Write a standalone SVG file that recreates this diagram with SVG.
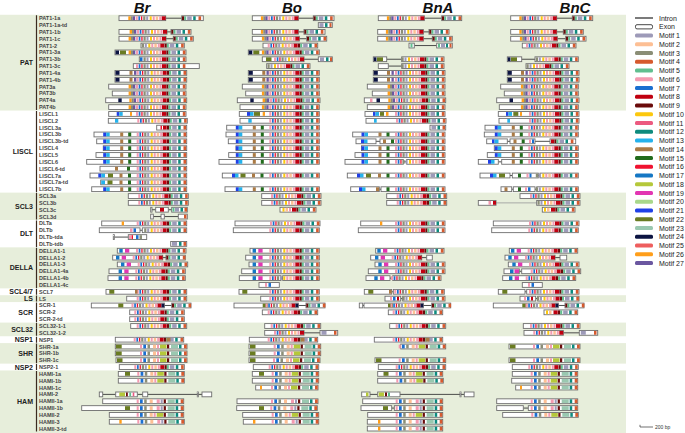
<svg xmlns="http://www.w3.org/2000/svg" width="685" height="433" viewBox="0 0 685 433">
<style>
.x{fill:#fff;stroke:#6e6e6e;stroke-width:.9;y:-2.4px;height:4.8px}
[class^=m]{y:-1.9px;height:3.8px}
.i{fill:none;stroke:#3a3a3a;stroke-width:.9}
.ig{fill:none;stroke:#a0a0a0;stroke-width:.9}
.t{font-family:"Liberation Sans",Arial,sans-serif;font-size:5.5px;font-weight:bold;fill:#454545}
.gl{font-family:"Liberation Sans",Arial,sans-serif;font-size:7px;font-weight:bold;fill:#222;text-anchor:end}
.h{font-family:"Liberation Sans",Arial,sans-serif;font-size:15px;font-weight:bold;font-style:italic;fill:#111;text-anchor:middle}
.lg{font-family:"Liberation Sans",Arial,sans-serif;font-size:7px;fill:#222}
.br{stroke:#3b2b20;stroke-width:1.2}
.m1{fill:#9d9ab8}.m2{fill:#fdbf94}.m3{fill:#8b8e76}.m4{fill:#d65a2e}.m5{fill:#60bf8f}.m6{fill:#f49ab0}.m7{fill:#1a6fd0}.m8{fill:#c00010}.m9{fill:#6a0b0b}.m10{fill:#fcc80e}.m11{fill:#ec5a80}.m12{fill:#0d8b7e}.m13{fill:#25b2ec}.m14{fill:#aa7a45}.m15{fill:#226b1c}.m16{fill:#f01230}.m17{fill:#1577c4}.m18{fill:#b5c83a}.m19{fill:#e236b2}.m20{fill:#a9d88b}.m21{fill:#2040e6}.m22{fill:#6a7c22}.m23{fill:#9ac8b0}.m24{fill:#0c1442}.m25{fill:#ee5e5e}.m26{fill:#ff9e1a}.m27{fill:#6b57a0}
</style>
<defs>
<g id="A2"><rect class="m3" x="-22.5" width="2.2"/><rect class="m1" x="-19.5" width="2"/><rect class="m10" x="-16" width="2"/><rect class="m6" x="-13" width="2"/><rect class="m2" x="-10" width="2.5"/><rect class="m6" x="-6.5" width="2"/><rect class="m8" x="-4" width="4"/></g>
<g id="A"><rect class="m6" x="-30" width="2"/><rect class="m7" x="-27.3" width="1.7"/><rect class="m16" x="-24.7" width="1.3"/><use href="#A2"/></g>
<g id="B"><rect class="m9" x="0.3" width="2.2"/><rect class="m5" x="2.5" width="2"/><rect class="m1" x="5.5" width="4.5"/><rect class="m12" x="11.5" width="2.5"/><rect class="m4" x="16.8" width="2.6"/></g>
<g id="C"><use href="#A"/><use href="#B"/></g>
<g id="C2"><use href="#A2"/><use href="#B"/></g>
<g id="P"><rect class="m26" x="-37.4" width="2.4"/><rect class="m3" x="-35" width="2"/><rect class="m27" x="-33" width="2.3"/></g>
<g id="L"><rect class="m21" x="-63.5" width="3"/><rect class="m13" x="-60.5" width="3.5"/><rect class="m14" x="-46.5" width="3"/><rect class="m15" x="-38.5" width="3"/></g>
<g id="D"><rect class="m17" x="-46.7" width="3.4"/><rect class="m19" x="-41" width="4.3"/></g>
<g id="H"><rect class="m6" x="-47" width="2"/><rect class="m7" x="-43.7" width="2.7"/><rect class="m3" x="-39.5" width="2.5"/><rect class="m2" x="-34" width="3"/><rect class="m6" x="-30" width="2"/><rect class="m18" x="-27" width="6.5"/><rect class="m9" x="-20" width="2.2"/><rect class="m23" x="-16" width="7"/><rect class="m12" x="-8" width="2.5"/><rect class="m4" x="-3" width="2.7"/></g>
<g id="H2"><rect class="m6" x="-47" width="2"/><rect class="m7" x="-43.7" width="2.7"/><rect class="m3" x="-39.5" width="2.5"/><rect class="m2" x="-34" width="3"/><rect class="m6" x="-27" width="3"/><rect class="m1" x="-23" width="2"/><rect class="m9" x="-20" width="2.2"/><rect class="m23" x="-16" width="7"/><rect class="m12" x="-8" width="2.5"/><rect class="m4" x="-3" width="2.7"/></g>
</defs>
<rect width="685" height="433" fill="#fff"/>
<g id="bands" fill="#e7eedb">
<rect x="0" y="14.78" width="626" height="95.76"/>
<rect x="0" y="192.62" width="626" height="27.36"/>
<rect x="0" y="247.34" width="626" height="41.04"/>
<rect x="0" y="295.22" width="626" height="6.84"/>
<rect x="0" y="322.58" width="626" height="13.68"/>
<rect x="0" y="343.1" width="626" height="20.52"/>
<rect x="0" y="370.46" width="626" height="62.54"/>
</g>
<g id="headers">
<text class="h" x="142" y="12.5">Br</text>
<text class="h" x="292" y="12.5">Bo</text>
<text class="h" x="438" y="12.5">BnA</text>
<text class="h" x="575" y="12.5">BnC</text>
</g>
<g id="groups">
<text class="gl" x="33" y="65.2">PAT</text>
<text class="gl" x="33" y="154.1">LISCL</text>
<text class="gl" x="33" y="208.8">SCL3</text>
<text class="gl" x="33" y="236.2">DLT</text>
<text class="gl" x="33" y="270.4">DELLA</text>
<text class="gl" x="33" y="294.3">SCL4/7</text>
<text class="gl" x="33" y="301.1">LS</text>
<text class="gl" x="33" y="314.8">SCR</text>
<text class="gl" x="33" y="331.9">SCL32</text>
<text class="gl" x="33" y="342.2">NSP1</text>
<text class="gl" x="33" y="355.9">SHR</text>
<text class="gl" x="33" y="369.5">NSP2</text>
<text class="gl" x="33" y="403.7">HAM</text>
</g>
<g id="connectors" class="br">
<path d="M36.5 15.2V110.1M36.5 111V192.2M36.5 193V219.6M36.5 220.4V246.9M36.5 247.8V288M36.5 288.8V294.8M36.5 295.6V301.6M36.5 302.5V322.2M36.5 323V335.8M36.5 336.7V342.7M36.5 343.5V363.2M36.5 364V370M36.5 370.9V431.6"/>
</g>
<g id="genes">
<g id="n-PAT1-1a" transform="translate(0,18.2)"><text class="t" x="39" y="2">PAT1-1a</text>
<path class="i" d="M165.7 0H181.7M298.3 0H313.3M424.3 0H441.7M556.7 0H572.3"/>
<rect class="x" x="119" width="46.7"/><rect class="x" x="181.7" width="21.6"/><use href="#A" x="165.7"/><use href="#P" x="165.7"/><use href="#B" x="181.7"/>
<rect class="x" x="252.3" width="46"/><rect class="x" x="313.3" width="20.7"/><use href="#A" x="298.3"/><use href="#P" x="298.3"/><use href="#B" x="313.3"/>
<rect class="x" x="378.3" width="46"/><rect class="x" x="441.7" width="20"/><use href="#A" x="424.3"/><use href="#P" x="424.3"/><use href="#B" x="441.7"/>
<rect class="x" x="510.7" width="46"/><rect class="x" x="572.3" width="20.4"/><use href="#A" x="556.7"/><use href="#P" x="556.7"/><use href="#B" x="572.3"/>
</g>
<g id="n-PAT1-1a-td" transform="translate(0,25.04)"><text class="t" x="39" y="2">PAT1-1a-td</text>
<rect class="x" x="318.3" width="14"/><rect class="m1" x="319.5" width="4"/><rect class="m12" x="325" width="2.5"/><rect class="m4" x="329.5" width="2"/>
</g>
<g id="n-PAT1-1b" transform="translate(0,31.88)"><text class="t" x="39" y="2">PAT1-1b</text>
<path class="i" d="M167 0H171M298.3 0H304M423.3 0H429M556.7 0H563.3"/>
<rect class="x" x="119" width="48"/><rect class="x" x="171" width="20"/><use href="#A" x="167"/><use href="#P" x="167"/><use href="#B" x="171"/>
<rect class="x" x="252.3" width="46"/><rect class="x" x="304" width="21"/><use href="#A" x="298.3"/><use href="#P" x="298.3"/><use href="#B" x="304"/>
<rect class="x" x="377.7" width="45.6"/><rect class="x" x="429" width="20"/><use href="#A" x="423.3"/><use href="#P" x="423.3"/><use href="#B" x="429"/>
<rect class="x" x="510.7" width="46"/><rect class="x" x="563.3" width="20"/><use href="#A" x="556.7"/><use href="#P" x="556.7"/><use href="#B" x="563.3"/>
</g>
<g id="n-PAT1-1c" transform="translate(0,38.72)"><text class="t" x="39" y="2">PAT1-1c</text>
<path class="i" d="M166 0H173.3M299.3 0H306.7M423.3 0H432.3M557.3 0H565.7"/>
<rect class="x" x="119" width="47"/><rect class="x" x="173.3" width="20"/><use href="#A" x="166"/><use href="#P" x="166"/><use href="#B" x="173.3"/>
<rect class="x" x="252.3" width="47"/><rect class="x" x="306.7" width="20"/><use href="#A" x="299.3"/><use href="#P" x="299.3"/><use href="#B" x="306.7"/>
<rect class="x" x="377.7" width="45.6"/><rect class="x" x="432.3" width="20"/><use href="#A" x="423.3"/><use href="#P" x="423.3"/><use href="#B" x="432.3"/>
<rect class="x" x="510.7" width="46.6"/><rect class="x" x="565.7" width="20.3"/><use href="#A" x="557.3"/><use href="#P" x="557.3"/><use href="#B" x="565.7"/>
</g>
<g id="n-PAT1-2" transform="translate(0,45.56)"><text class="t" x="39" y="2">PAT1-2</text>
<path class="i" d="M414.3 0H436.7"/>
<rect class="x" x="141" width="43.3"/><use href="#C2" x="164.3"/>
<rect class="x" x="263" width="54.7"/><use href="#C" x="297.7"/>
<rect class="x" x="409" width="5.3"/><rect class="x" x="436.7" width="15.6"/><rect class="m5" x="410.5" width="2"/><rect class="m5" x="438" width="2"/><rect class="m1" x="441" width="4"/><rect class="m12" x="446" width="2"/><rect class="m4" x="449.5" width="2"/>
<rect class="x" x="522.3" width="53.7"/><use href="#C" x="556"/>
</g>
<g id="n-PAT1-3a" transform="translate(0,52.4)"><text class="t" x="39" y="2">PAT1-3a</text>
<rect class="x" x="115" width="71"/><use href="#C" x="166"/><use href="#P" x="166"/><rect class="m24" x="115.5" width="3.5"/><rect class="m22" x="120" width="6"/>
<rect class="x" x="248.3" width="71"/><use href="#C" x="299.3"/><use href="#P" x="299.3"/><rect class="m24" x="248.8" width="3.5"/><rect class="m22" x="253.3" width="6"/>
</g>
<g id="n-PAT1-3b" transform="translate(0,59.24)"><text class="t" x="39" y="2">PAT1-3b</text>
<path class="i" d="M304 0H318.3M386.7 0H401.7M521.7 0H535"/>
<rect class="x" x="139.3" width="46.7"/><use href="#C2" x="166"/><rect class="m7" x="140" width="2.5"/>
<rect class="x" x="262.3" width="41.7"/><rect class="x" x="318.3" width="14"/><rect class="m22" x="266" width="5.5"/><use href="#A" x="304"/><rect class="m1" x="320" width="4"/><rect class="m12" x="326" width="2.5"/><rect class="m4" x="330" width="2"/>
<rect class="x" x="373.3" width="13.4"/><rect class="x" x="401.7" width="42.3"/><rect class="m24" x="373.8" width="2.7"/><rect class="m22" x="377" width="6"/><use href="#C2" x="424"/>
<rect class="x" x="507.3" width="14.4"/><rect class="x" x="535" width="43.3"/><rect class="m24" x="507.8" width="2.7"/><rect class="m22" x="511" width="6"/><use href="#C2" x="558.3"/>
</g>
<g id="n-PAT1-3c" transform="translate(0,66.08)"><text class="t" x="39" y="2">PAT1-3c</text>
<path class="i" d="M388.3 0H401.7"/>
<rect class="x" x="133.3" width="66"/><use href="#C" x="166"/>
<rect class="x" x="266.7" width="43.3"/><use href="#C2" x="290"/>
<rect class="x" x="378.3" width="10"/><rect class="x" x="401.7" width="42.3"/><use href="#C2" x="424"/>
<rect class="x" x="526" width="43"/><use href="#C2" x="549"/>
</g>
<g id="n-PAT1-4a" transform="translate(0,72.92)"><text class="t" x="39" y="2">PAT1-4a</text>
<rect class="x" x="115" width="71.7"/><use href="#C" x="166.7"/><rect class="m24" x="115.5" width="4"/><rect class="m14" x="129.5" width="3"/><rect class="m27" x="134" width="2.3"/>
<rect class="x" x="248.3" width="71"/><use href="#C" x="299.3"/><rect class="m24" x="248.8" width="4"/><rect class="m14" x="262.3" width="3"/><rect class="m27" x="266.5" width="2.3"/>
<rect class="x" x="373.3" width="71.7"/><use href="#C" x="425"/><rect class="m24" x="373.8" width="4"/><rect class="m14" x="387" width="3"/><rect class="m27" x="391.5" width="2.3"/>
<rect class="x" x="507.3" width="71.7"/><use href="#C" x="559"/><rect class="m24" x="507.8" width="4"/><rect class="m14" x="521" width="3"/><rect class="m27" x="525.5" width="2.3"/>
</g>
<g id="n-PAT1-4b" transform="translate(0,79.76)"><text class="t" x="39" y="2">PAT1-4b</text>
<rect class="x" x="115" width="71.7"/><use href="#C" x="166.7"/><rect class="m24" x="115.5" width="4"/><rect class="m14" x="129.5" width="3"/><rect class="m27" x="134" width="2.3"/>
<rect class="x" x="248.3" width="71"/><use href="#C" x="299.3"/><rect class="m24" x="248.8" width="4"/><rect class="m14" x="262.3" width="3"/><rect class="m27" x="266.5" width="2.3"/>
<rect class="x" x="373.3" width="71.7"/><use href="#C" x="425"/><rect class="m24" x="373.8" width="4"/><rect class="m14" x="387" width="3"/><rect class="m27" x="391.5" width="2.3"/>
<rect class="x" x="507.3" width="71.7"/><use href="#C" x="559"/><rect class="m24" x="507.8" width="4"/><rect class="m14" x="521" width="3"/><rect class="m27" x="525.5" width="2.3"/>
</g>
<g id="n-PAT3a" transform="translate(0,86.6)"><text class="t" x="39" y="2">PAT3a</text>
<rect class="x" x="108.7" width="77.3"/><use href="#C" x="166"/><use href="#P" x="166"/>
<rect class="x" x="242.3" width="77"/><use href="#C" x="299.3"/><use href="#P" x="299.3"/>
<rect class="x" x="367.3" width="77.7"/><use href="#C" x="425"/><use href="#P" x="425"/>
<rect class="x" x="500.7" width="77.6"/><use href="#C" x="558.3"/><use href="#P" x="558.3"/>
</g>
<g id="n-PAT3b" transform="translate(0,93.44)"><text class="t" x="39" y="2">PAT3b</text>
<rect class="x" x="112.3" width="73.7"/><use href="#C" x="166"/><use href="#P" x="166"/>
<rect class="x" x="245.7" width="73.6"/><use href="#C" x="299.3"/><use href="#P" x="299.3"/>
<rect class="x" x="372.3" width="72.7"/><use href="#C" x="425"/><use href="#P" x="425"/>
<rect class="x" x="504.3" width="74"/><use href="#C" x="558.3"/><use href="#P" x="558.3"/>
</g>
<g id="n-PAT4a" transform="translate(0,100.28)"><text class="t" x="39" y="2">PAT4a</text>
<rect class="x" x="105.7" width="81"/><use href="#C" x="166.7"/><use href="#P" x="166.7"/><rect class="m24" x="118.3" width="3.4"/>
<rect class="x" x="237.3" width="82.7"/><use href="#C" x="300"/><use href="#P" x="300"/><rect class="m24" x="250.3" width="3.4"/>
<rect class="x" x="364.3" width="81.4"/><use href="#C" x="425.7"/><use href="#P" x="425.7"/><rect class="m6" x="370" width="2.5"/><rect class="m24" x="376.5" width="3.5"/>
<rect class="x" x="496.7" width="82.3"/><use href="#C" x="559"/><use href="#P" x="559"/><rect class="m24" x="509.5" width="3.5"/>
</g>
<g id="n-PAT4b" transform="translate(0,107.12)"><text class="t" x="39" y="2">PAT4b</text>
<rect class="x" x="108.7" width="77.3"/><use href="#C" x="166"/><use href="#P" x="166"/>
<rect class="x" x="240" width="79.3"/><use href="#C" x="299.3"/><use href="#P" x="299.3"/>
<rect class="x" x="367.3" width="77.7"/><use href="#C" x="425"/><use href="#P" x="425"/>
<rect class="x" x="499.3" width="79"/><use href="#C" x="558.3"/><use href="#P" x="558.3"/>
</g>
<g id="n-LISCL1" transform="translate(0,113.96)"><text class="t" x="39" y="2">LISCL1</text>
<rect class="x" x="108.7" width="77.3"/><use href="#C" x="166"/><rect class="m21" x="116.7" width="2.6"/><rect class="m13" x="119.3" width="3.4"/><rect class="m26" x="130" width="2"/>
<rect class="x" x="239.3" width="80"/><use href="#C" x="299.3"/><rect class="m21" x="247" width="3"/><rect class="m13" x="250" width="3.5"/><rect class="m22" x="254" width="6"/><rect class="m26" x="262.7" width="2.3"/>
<rect class="x" x="365" width="80"/><use href="#C" x="425"/><rect class="m21" x="373" width="2.5"/><rect class="m13" x="375.5" width="3.5"/><rect class="m22" x="380" width="4"/><rect class="m26" x="386" width="2.5"/>
<rect class="x" x="498.3" width="80.7"/><use href="#C" x="559"/><rect class="m21" x="506" width="2.5"/><rect class="m13" x="508.5" width="3.5"/><rect class="m22" x="513.3" width="5"/><rect class="m26" x="520" width="2"/>
</g>
<g id="n-LISCL2" transform="translate(0,120.8)"><text class="t" x="39" y="2">LISCL2</text>
<rect class="x" x="108.3" width="79"/><use href="#C" x="167.3"/><rect class="m13" x="115" width="3.3"/>
<rect class="x" x="240" width="79.3"/><use href="#C" x="299.3"/><rect class="m13" x="248.3" width="3.4"/>
<rect class="x" x="366" width="80"/><use href="#C" x="426"/><rect class="m13" x="374" width="2.7"/>
<rect class="x" x="499" width="80"/><use href="#C" x="559"/><rect class="m13" x="507.3" width="2.7"/>
</g>
<g id="n-LISCL3a" transform="translate(0,127.64)"><text class="t" x="39" y="2">LISCL3a</text>
<rect class="x" x="156.7" width="30"/><use href="#B" x="166.7"/><rect class="m16" x="160.5" width="1.5"/><rect class="m8" x="163" width="3.7"/>
<rect class="x" x="226.7" width="92.6"/><use href="#C" x="299.3"/><use href="#L" x="299.3"/>
<rect class="x" x="430" width="15.7"/><rect class="m1" x="431.5" width="4.5"/><rect class="m12" x="437.5" width="2.5"/><rect class="m4" x="442.5" width="2.5"/>
<rect class="x" x="485" width="93.3"/><use href="#C" x="558.3"/><use href="#L" x="558.3"/>
</g>
<g id="n-LISCL3b" transform="translate(0,134.48)"><text class="t" x="39" y="2">LISCL3b</text>
<rect class="x" x="94" width="92.7"/><use href="#C" x="166.7"/><use href="#L" x="166.7"/>
<rect class="x" x="226" width="93.3"/><use href="#C" x="299.3"/><use href="#L" x="299.3"/>
<rect class="x" x="352.7" width="92.3"/><use href="#C" x="425"/><use href="#L" x="425"/>
<rect class="x" x="484.3" width="94"/><use href="#C" x="558.3"/><use href="#L" x="558.3"/>
</g>
<g id="n-LISCL3b-td" transform="translate(0,141.32)"><text class="t" x="39" y="2">LISCL3b-td</text>
<path class="i" d="M376 0H380M507.3 0H510M535 0H550"/>
<rect class="x" x="96.7" width="90"/><use href="#C" x="166.7"/><use href="#L" x="166.7"/>
<rect class="x" x="228.3" width="91"/><use href="#C" x="299.3"/><use href="#L" x="299.3"/>
<rect class="x" x="356" width="20"/><rect class="x" x="380" width="65"/><use href="#C" x="425"/><rect class="m21" x="361" width="3"/><rect class="m13" x="364" width="3.5"/><rect class="m14" x="383" width="3"/><rect class="m15" x="391" width="3"/>
<rect class="x" x="486.7" width="20.6"/><rect class="x" x="510" width="25"/><rect class="x" x="550" width="25.7"/><rect class="m21" x="492" width="2.5"/><rect class="m13" x="494.5" width="4"/><rect class="m14" x="513.5" width="3"/><rect class="m15" x="521.7" width="3"/><rect class="m6" x="529" width="2"/><rect class="m7" x="532" width="2"/><rect class="m8" x="551" width="3"/><use href="#B" x="554"/>
</g>
<g id="n-LISCL4" transform="translate(0,148.16)"><text class="t" x="39" y="2">LISCL4</text>
<rect class="x" x="103.3" width="83.4"/><use href="#C" x="166.7"/><use href="#L" x="166.7"/>
<rect class="x" x="236" width="83.3"/><use href="#C" x="299.3"/><use href="#L" x="299.3"/>
<rect class="x" x="361.5" width="83.5"/><use href="#C" x="425"/><use href="#L" x="425"/>
<rect class="x" x="494.3" width="84"/><use href="#C" x="558.3"/><use href="#L" x="558.3"/>
</g>
<g id="n-LISCL5" transform="translate(0,155)"><text class="t" x="39" y="2">LISCL5</text>
<rect class="x" x="96" width="90.7"/><use href="#C" x="166.7"/><use href="#L" x="166.7"/>
<rect class="x" x="228.7" width="90.6"/><use href="#C" x="299.3"/><use href="#L" x="299.3"/>
<rect class="x" x="355" width="90"/><use href="#C" x="425"/><use href="#L" x="425"/>
<rect class="x" x="487.3" width="91"/><use href="#C" x="558.3"/><use href="#L" x="558.3"/>
</g>
<g id="n-LISCL6" transform="translate(0,161.84)"><text class="t" x="39" y="2">LISCL6</text>
<path class="i" d="M403.3 0H406.7M498.3 0H501.7"/>
<rect class="x" x="86.7" width="100"/><use href="#C" x="166.7"/><use href="#L" x="166.7"/>
<rect class="x" x="219" width="100.3"/><use href="#C" x="299.3"/><use href="#L" x="299.3"/>
<rect class="x" x="345" width="58.3"/><rect class="x" x="406.7" width="38.3"/><use href="#C" x="425"/><use href="#L" x="425"/>
<rect class="x" x="478.3" width="20"/><rect class="x" x="501.7" width="76.6"/><use href="#C" x="558.3"/><rect class="m21" x="488" width="3"/><rect class="m13" x="491" width="3.5"/><rect class="m14" x="511.8" width="3"/><rect class="m15" x="519.8" width="3"/>
</g>
<g id="n-LISCL6-td" transform="translate(0,168.68)"><text class="t" x="39" y="2">LISCL6-td</text>
<rect class="x" x="100" width="86.7"/><use href="#C" x="166.7"/><rect class="m14" x="115" width="3"/><rect class="m15" x="127" width="3"/>
</g>
<g id="n-LISCL7a" transform="translate(0,175.52)"><text class="t" x="39" y="2">LISCL7a</text>
<path class="i" d="M510 0H512.3M538.3 0H540"/>
<rect class="x" x="90" width="96.7"/><use href="#C" x="166.7"/><rect class="m21" x="98.3" width="3"/><rect class="m13" x="101.3" width="3.7"/><rect class="m22" x="108" width="5"/><rect class="m14" x="119.5" width="3"/><rect class="m15" x="128" width="3"/>
<rect class="x" x="222.3" width="97"/><use href="#C" x="299.3"/><rect class="m21" x="232" width="3"/><rect class="m13" x="235" width="3.5"/><rect class="m22" x="240.5" width="5"/><rect class="m14" x="252" width="3"/><rect class="m15" x="260.5" width="3"/>
<rect class="x" x="347.3" width="97.7"/><use href="#C" x="425"/><rect class="m21" x="357" width="3"/><rect class="m13" x="360" width="3.5"/><rect class="m22" x="366" width="5"/><rect class="m14" x="378" width="3"/><rect class="m15" x="386.5" width="3"/>
<rect class="x" x="480" width="30"/><rect class="x" x="512.3" width="26"/><rect class="x" x="540" width="38.3"/><use href="#C2" x="558.3"/><rect class="m21" x="490" width="3"/><rect class="m13" x="493" width="3.5"/><rect class="m22" x="499" width="6"/><rect class="m15" x="518" width="3"/><rect class="m6" x="526.5" width="2"/><rect class="m7" x="529.5" width="2"/>
</g>
<g id="n-LISCL7a-td" transform="translate(0,182.36)"><text class="t" x="39" y="2">LISCL7a-td</text>
<rect class="x" x="100.7" width="86"/><use href="#C" x="166.7"/><rect class="m13" x="101.2" width="3.8"/><rect class="m22" x="107.5" width="5"/><rect class="m14" x="119.5" width="3"/><rect class="m15" x="128" width="3"/>
</g>
<g id="n-LISCL7b" transform="translate(0,189.2)"><text class="t" x="39" y="2">LISCL7b</text>
<path class="i" d="M379.3 0H381M511.7 0H513.3M535 0H536.7"/>
<rect class="x" x="91.7" width="95"/><use href="#C" x="166.7"/><use href="#L" x="166.7"/>
<rect class="x" x="225" width="94.3"/><use href="#C" x="299.3"/><use href="#L" x="299.3"/>
<rect class="x" x="350.7" width="28.6"/><rect class="x" x="381" width="64"/><use href="#C" x="425"/><rect class="m21" x="359" width="3"/><rect class="m13" x="362" width="3.5"/><rect class="m14" x="376" width="3"/><rect class="m15" x="386.5" width="3"/>
<rect class="x" x="501" width="10.7"/><rect class="x" x="513.3" width="21.7"/><rect class="x" x="536.7" width="41.6"/><use href="#C2" x="558.3"/><rect class="m14" x="504.5" width="3"/><rect class="m15" x="518" width="3"/><rect class="m6" x="525" width="2"/><rect class="m7" x="528" width="2.5"/>
</g>
<g id="n-SCL3a" transform="translate(0,196.04)"><text class="t" x="39" y="2">SCL3a</text>
<rect class="x" x="128.3" width="60"/><use href="#C" x="168.3"/>
<rect class="x" x="261.7" width="59.3"/><use href="#C" x="301"/>
<rect class="x" x="386.7" width="60"/><use href="#C" x="426.7"/>
<rect class="x" x="520" width="60"/><use href="#C" x="560"/>
</g>
<g id="n-SCL3b" transform="translate(0,202.88)"><text class="t" x="39" y="2">SCL3b</text>
<path class="ig" d="M496 0H536.7"/>
<rect class="x" x="128.3" width="60"/><use href="#C" x="168.3"/>
<rect class="x" x="261.7" width="59.3"/><use href="#C" x="301"/>
<rect class="x" x="386.7" width="60"/><use href="#C" x="426.7"/>
<rect class="x" x="478.3" width="17.7"/><rect class="x" x="536.7" width="43.3"/><rect class="m6" x="488.5" width="2.5"/><rect class="m8" x="493" width="3"/><use href="#C2" x="560"/>
</g>
<g id="n-SCL3c" transform="translate(0,209.72)"><text class="t" x="39" y="2">SCL3c</text>
<path class="i" d="M152 0H155.7M168.3 0H171.7"/>
<rect class="x" x="150.7" width="1.3"/><rect class="x" x="155.7" width="12.6"/><rect class="x" x="171.7" width="15.6"/><rect class="m8" x="160" width="4"/><rect class="m5" x="172.5" width="2"/><rect class="m1" x="175" width="4"/><rect class="m12" x="180.5" width="2.5"/><rect class="m4" x="184.5" width="2.5"/>
<rect class="x" x="280" width="36"/><rect class="m10" x="282.5" width="2"/><rect class="m2" x="285.5" width="2.5"/><rect class="m6" x="289" width="2"/><rect class="m8" x="292" width="4"/><use href="#B" x="296"/>
<rect class="x" x="542.3" width="32.7"/><rect class="m10" x="544" width="2"/><rect class="m2" x="547" width="2.5"/><rect class="m8" x="551" width="4"/><use href="#B" x="555"/>
</g>
<g id="n-SCL3d" transform="translate(0,216.56)"><text class="t" x="39" y="2">SCL3d</text>
<path class="i" d="M153.3 0H161M164.3 0H178.3"/>
<rect class="x" x="150.7" width="2.6"/><rect class="x" x="161" width="3.3"/><rect class="x" x="178.3" width="9"/><rect class="m4" x="184" width="2.5"/>
</g>
<g id="n-DLTa" transform="translate(0,223.4)"><text class="t" x="39" y="2">DLTa</text>
<rect class="x" x="101.7" width="85"/><use href="#C" x="166.7"/><rect class="m26" x="121.7" width="2.3"/>
<rect class="x" x="235" width="85"/><use href="#C" x="300"/>
<rect class="x" x="360.7" width="84.3"/><use href="#C" x="425"/><rect class="m26" x="380" width="2.3"/>
<rect class="x" x="493.3" width="85.7"/><use href="#C" x="559"/>
</g>
<g id="n-DLTb" transform="translate(0,230.24)"><text class="t" x="39" y="2">DLTb</text>
<path class="i" d="M140 0H142.3"/>
<rect class="x" x="99.3" width="40.7"/><rect class="x" x="142.3" width="44.4"/><rect class="m6" x="130" width="2.5"/><rect class="m7" x="133.5" width="2.5"/><use href="#C2" x="166.7"/>
<rect class="x" x="233.3" width="86"/><use href="#C" x="299.3"/>
<rect class="x" x="358.3" width="86.7"/><use href="#C" x="425"/>
<rect class="x" x="491.7" width="86.6"/><use href="#C" x="558.3"/>
</g>
<g id="n-DLTb-tda" transform="translate(0,237.08)"><text class="t" x="39" y="2">DLTb-tda</text>
<path class="i" d="M114.3 0H128.3"/>
<rect class="x" x="113.3" width="1"/><rect class="x" x="128.3" width="18.4"/><rect class="m6" x="129" width="2"/><rect class="m16" x="131.5" width="1.5"/><rect class="m7" x="136" width="2.5"/><rect class="m3" x="139.5" width="2.5"/>
</g>
<g id="n-DLTb-tdb" transform="translate(0,243.92)"><text class="t" x="39" y="2">DLTb-tdb</text>
<rect class="x" x="170.7" width="16"/><rect class="m1" x="172" width="5"/><rect class="m12" x="179" width="2.5"/><rect class="m4" x="183.5" width="2.5"/>
</g>
<g id="n-DELLA1-1" transform="translate(0,250.76)"><text class="t" x="39" y="2">DELLA1-1</text>
<rect class="x" x="117.3" width="68.7"/><use href="#C" x="166"/><use href="#D" x="166"/>
<rect class="x" x="250" width="69.3"/><use href="#C" x="299.3"/><use href="#D" x="299.3"/>
<rect class="x" x="375.7" width="68.3"/><use href="#C" x="424"/><use href="#D" x="424"/>
<rect class="x" x="509.3" width="68.4"/><use href="#C" x="557.7"/><use href="#D" x="557.7"/>
</g>
<g id="n-DELLA1-2" transform="translate(0,257.6)"><text class="t" x="39" y="2">DELLA1-2</text>
<path class="i" d="M162.7 0H166M421.7 0H426.7M555 0H560"/>
<rect class="x" x="112.7" width="50"/><rect class="x" x="166" width="19.3"/><use href="#A" x="162.7"/><use href="#D" x="162.7"/><use href="#B" x="166"/>
<rect class="x" x="245.7" width="73.6"/><use href="#C" x="299.3"/><use href="#D" x="299.3"/>
<rect class="x" x="370.7" width="51"/><rect class="x" x="426.7" width="5.6"/><use href="#A" x="421.7"/><use href="#D" x="421.7"/>
<rect class="x" x="505" width="50"/><rect class="x" x="560" width="6.7"/><use href="#A" x="555"/><use href="#D" x="555"/>
</g>
<g id="n-DELLA1-3" transform="translate(0,264.44)"><text class="t" x="39" y="2">DELLA1-3</text>
<rect class="x" x="117.3" width="70.4"/><use href="#C" x="167.7"/><use href="#D" x="167.7"/>
<rect class="x" x="249" width="70.3"/><use href="#C" x="299.3"/><use href="#D" x="299.3"/>
<rect class="x" x="375" width="70"/><use href="#C" x="425"/><use href="#D" x="425"/>
<rect class="x" x="508.3" width="70.7"/><use href="#C" x="559"/><use href="#D" x="559"/>
</g>
<g id="n-DELLA1-4a" transform="translate(0,271.28)"><text class="t" x="39" y="2">DELLA1-4a</text>
<path class="i" d="M519.3 0H521.7"/>
<rect class="x" x="109" width="76.3"/><use href="#C" x="165.3"/><use href="#D" x="165.3"/>
<rect class="x" x="241.7" width="77.6"/><use href="#C" x="299.3"/><use href="#D" x="299.3"/>
<rect class="x" x="368.3" width="76.7"/><use href="#C" x="425"/><use href="#D" x="425"/>
<rect class="x" x="504" width="15.3"/><rect class="x" x="521.7" width="59"/><rect class="m17" x="510" width="3.5"/><rect class="m19" x="514.5" width="4.5"/><use href="#C" x="560.7"/>
</g>
<g id="n-DELLA1-4b" transform="translate(0,278.12)"><text class="t" x="39" y="2">DELLA1-4b</text>
<path class="i" d="M281 0H282.7M390 0H392.7"/>
<rect class="x" x="108" width="77.3"/><use href="#C" x="165.3"/><use href="#D" x="165.3"/>
<rect class="x" x="239.3" width="41.7"/><rect class="x" x="282.7" width="36.6"/><use href="#C" x="299.3"/><use href="#D" x="299.3"/>
<rect class="x" x="366" width="24"/><rect class="x" x="392.7" width="48.3"/><use href="#C" x="421"/><use href="#D" x="421"/>
<rect class="x" x="502.7" width="73"/><use href="#C" x="555.7"/><use href="#D" x="555.7"/>
</g>
<g id="n-DELLA1-4c" transform="translate(0,284.96)"><text class="t" x="39" y="2">DELLA1-4c</text>
<rect class="x" x="259" width="20.3"/><rect class="m6" x="265" width="2"/><rect class="m7" x="268.5" width="2.5"/>
<rect class="x" x="522.3" width="20"/><rect class="m6" x="528" width="2"/><rect class="m7" x="531.5" width="2.5"/>
</g>
<g id="n-SCL7" transform="translate(0,291.8)"><text class="t" x="39" y="2">SCL7</text>
<path class="i" d="M391.7 0H393.3M525 0H526.7"/>
<rect class="x" x="106" width="80.7"/><use href="#C" x="166.7"/><rect class="m22" x="109.3" width="5"/><rect class="m14" x="135" width="2.5"/>
<rect class="x" x="239" width="80.3"/><use href="#C" x="299.3"/><rect class="m22" x="242.3" width="5"/>
<rect class="x" x="364.3" width="27.4"/><rect class="x" x="393.3" width="51"/><rect class="m22" x="368.3" width="5"/><rect class="m14" x="389" width="2.7"/><use href="#C" x="424.3"/>
<rect class="x" x="498.3" width="26.7"/><rect class="x" x="526.7" width="52.3"/><rect class="m22" x="502.3" width="5"/><use href="#C" x="559"/>
</g>
<g id="n-LS" transform="translate(0,298.64)"><text class="t" x="39" y="2">LS</text>
<path class="i" d="M400.7 0H402.7M535.7 0H537.7"/>
<rect class="x" x="126.7" width="60"/><use href="#C" x="166.7"/>
<rect class="x" x="260.7" width="58.6"/><use href="#C" x="299.3"/>
<rect class="x" x="385" width="15.7"/><rect class="x" x="402.7" width="42.3"/><rect class="m6" x="390" width="2"/><rect class="m7" x="393" width="2.5"/><rect class="m8" x="397" width="2"/><use href="#C2" x="425"/>
<rect class="x" x="520" width="15.7"/><rect class="x" x="537.7" width="41.3"/><rect class="m6" x="524" width="2"/><rect class="m7" x="527" width="2.5"/><rect class="m8" x="531" width="2"/><use href="#C2" x="559.5"/>
</g>
<g id="n-SCR-1" transform="translate(0,305.48)"><text class="t" x="39" y="2">SCR-1</text>
<path class="i" d="M164.3 0H171.7M298.3 0H306M362.7 0H364M423.3 0H431.7M558.3 0H565"/>
<rect class="x" x="91.3" width="73"/><rect class="x" x="171.7" width="19.3"/><rect class="m22" x="118.3" width="5"/><use href="#A" x="161.5"/><rect class="m24" x="161.5" width="2.8"/><use href="#B" x="171.7"/>
<rect class="x" x="234" width="64.3"/><rect class="x" x="306" width="19"/><rect class="m22" x="262.7" width="5"/><use href="#A" x="295.5"/><rect class="m24" x="295.5" width="2.8"/><use href="#B" x="306"/>
<rect class="x" x="359.3" width="3.4"/><rect class="x" x="364" width="59.3"/><rect class="x" x="431.7" width="19"/><rect class="m22" x="388" width="5"/><use href="#A" x="420.5"/><rect class="m24" x="420.5" width="2.8"/><use href="#B" x="431.7"/>
<rect class="x" x="493.3" width="65"/><rect class="x" x="565" width="19"/><rect class="m22" x="522.3" width="5"/><use href="#A" x="555.5"/><rect class="m24" x="555.5" width="2.8"/><use href="#B" x="565"/>
</g>
<g id="n-SCR-2" transform="translate(0,312.32)"><text class="t" x="39" y="2">SCR-2</text>
<rect class="x" x="129.7" width="54.6"/><use href="#C" x="164.3"/>
<rect class="x" x="262.3" width="55.4"/><use href="#C" x="297.7"/>
<rect class="x" x="388.3" width="54.4"/><use href="#C" x="422.7"/>
<rect class="x" x="544" width="33.7"/><rect class="m10" x="546" width="2"/><rect class="m2" x="549" width="2.5"/><rect class="m8" x="553.5" width="4.2"/><use href="#B" x="557.7"/>
</g>
<g id="n-SCR-2-td" transform="translate(0,319.16)"><text class="t" x="39" y="2">SCR-2-td</text>
<rect class="x" x="129.7" width="54.6"/><use href="#C" x="164.3"/>
</g>
<g id="n-SCL32-1-1" transform="translate(0,326)"><text class="t" x="39" y="2">SCL32-1-1</text>
<rect class="x" x="130.7" width="56"/><use href="#C" x="166.7"/>
<rect class="x" x="264.7" width="56"/><use href="#C" x="300.7"/>
<rect class="x" x="389.7" width="56"/><use href="#C" x="425.7"/>
<rect class="x" x="523.3" width="56.7"/><use href="#C" x="560"/>
</g>
<g id="n-SCL32-1-2" transform="translate(0,332.84)"><text class="t" x="39" y="2">SCL32-1-2</text>
<path class="i" d="M304 0H320M563.3 0H579.3"/>
<rect class="x" x="264.7" width="39.3"/><rect class="x" x="320" width="17.7"/><use href="#A" x="304"/><rect class="m1" x="321.5" width="5"/><rect class="m4" x="334" width="2.5"/>
<rect class="x" x="524" width="39.3"/><rect class="x" x="579.3" width="18.4"/><use href="#A" x="563.3"/><rect class="m1" x="580.8" width="5"/><rect class="m4" x="594" width="2.5"/>
</g>
<g id="n-NSP1" transform="translate(0,339.68)"><text class="t" x="39" y="2">NSP1</text>
<rect class="x" x="115.3" width="68.4"/><use href="#C" x="163.7"/><rect class="m14" x="166.5" width="4"/>
<rect class="x" x="249.3" width="68.4"/><use href="#C" x="297.7"/><rect class="m14" x="300.5" width="4"/>
<rect class="x" x="374.3" width="68.4"/><use href="#C" x="422.7"/><rect class="m14" x="425.5" width="4"/>
</g>
<g id="n-SHR-1a" transform="translate(0,346.52)"><text class="t" x="39" y="2">SHR-1a</text>
<rect class="x" x="115.3" width="71.7"/><use href="#H" x="187"/><rect class="m22" x="116" width="5.7"/>
<rect class="x" x="249" width="71.7"/><use href="#H" x="320.7"/><rect class="m22" x="250" width="5.5"/>
<rect class="x" x="400.7" width="45"/><use href="#H" x="445.7"/>
<rect class="x" x="509" width="71"/><use href="#H" x="580"/><rect class="m22" x="510" width="5.5"/>
</g>
<g id="n-SHR-1b" transform="translate(0,353.36)"><text class="t" x="39" y="2">SHR-1b</text>
<rect class="x" x="115.3" width="71.7"/><use href="#H" x="187"/><rect class="m22" x="116" width="5.7"/>
<rect class="x" x="249" width="71.7"/><use href="#H" x="320.7"/><rect class="m22" x="250" width="5.5"/>
</g>
<g id="n-SHR-1c" transform="translate(0,360.2)"><text class="t" x="39" y="2">SHR-1c</text>
<rect class="x" x="116" width="71"/><use href="#H" x="187"/><rect class="m22" x="117" width="5.5"/>
<rect class="x" x="249" width="71"/><use href="#H" x="320"/><rect class="m22" x="250" width="5.5"/>
<rect class="x" x="375" width="70.7"/><use href="#H" x="445.7"/><rect class="m22" x="376" width="5.5"/>
<rect class="x" x="509" width="71"/><use href="#H" x="580"/><rect class="m22" x="510" width="5.5"/>
</g>
<g id="n-NSP2-1" transform="translate(0,367.04)"><text class="t" x="39" y="2">NSP2-1</text>
<rect class="x" x="119.3" width="65"/><use href="#C" x="164.3"/>
<rect class="x" x="253.3" width="65.4"/><use href="#C" x="298.7"/>
<rect class="x" x="378.3" width="67.4"/><use href="#C" x="425.7"/>
<rect class="x" x="512.3" width="66"/><use href="#C" x="558.3"/>
</g>
<g id="n-HAMI-1a" transform="translate(0,373.88)"><text class="t" x="39" y="2">HAMI-1a</text>
<rect class="x" x="118.3" width="66"/><use href="#H" x="184.3"/><rect class="m22" x="125" width="5"/>
<rect class="x" x="252.3" width="66.4"/><use href="#H" x="318.7"/><rect class="m22" x="259" width="5"/>
<rect class="x" x="377.7" width="65"/><use href="#H" x="442.7"/><rect class="m22" x="383.5" width="5"/>
<rect class="x" x="512.3" width="65.4"/><use href="#H" x="577.7"/>
</g>
<g id="n-HAMI-1b" transform="translate(0,380.72)"><text class="t" x="39" y="2">HAMI-1b</text>
<rect class="x" x="118.3" width="66"/><use href="#H" x="184.3"/>
<rect class="x" x="252.3" width="66.4"/><use href="#H" x="318.7"/>
<rect class="x" x="377.7" width="65.6"/><use href="#H" x="443.3"/>
<rect class="x" x="511.7" width="66"/><use href="#H" x="577.7"/>
</g>
<g id="n-HAMI-1c" transform="translate(0,387.56)"><text class="t" x="39" y="2">HAMI-1c</text>
<rect class="x" x="255.7" width="62.3"/><use href="#H" x="318"/><rect class="m26" x="260" width="2"/>
<rect class="x" x="515.7" width="62"/><use href="#H" x="577.7"/><rect class="m26" x="520" width="2"/>
</g>
<g id="n-HAMI-2" transform="translate(0,394.4)"><text class="t" x="39" y="2">HAMI-2</text>
<path class="i" d="M102.7 0H115.7M137.3 0H142.7M147.7 0H202M370 0H377.7M400 0H464.3"/>
<rect class="x" x="99.3" width="3.4"/><rect class="x" x="115.7" width="21.6"/><rect class="x" x="142.7" width="5"/><rect class="x" x="197.3" width="1"/><rect class="x" x="202" width="9.7"/><rect class="m18" x="119.3" width="5.7"/><rect class="m9" x="126" width="1.8"/><rect class="m5" x="129.3" width="1.8"/><rect class="m11" x="132.7" width="1.6"/>
<rect class="x" x="361.7" width="8.3"/><rect class="x" x="377.7" width="22.3"/><rect class="x" x="460" width="1"/><rect class="x" x="464.3" width="9.7"/><rect class="m18" x="366" width="2.5"/><rect class="m18" x="378.7" width="5.3"/><rect class="m9" x="385" width="2"/><rect class="m5" x="388" width="2"/>
</g>
<g id="n-HAMII-1a" transform="translate(0,401.24)"><text class="t" x="39" y="2">HAMII-1a</text>
<rect class="x" x="102.7" width="81"/><use href="#H2" x="183.7"/>
<rect class="x" x="237" width="81"/><use href="#H2" x="318"/>
<rect class="x" x="362.7" width="80"/><use href="#H2" x="442.7"/>
<rect class="x" x="496.7" width="81"/><use href="#H2" x="577.7"/>
</g>
<g id="n-HAMII-1b" transform="translate(0,408.08)"><text class="t" x="39" y="2">HAMII-1b</text>
<path class="i" d="M391.7 0H394.3M523.3 0H528.3"/>
<rect class="x" x="81.7" width="102"/><use href="#H2" x="183.7"/><rect class="m22" x="125" width="5"/>
<rect class="x" x="236.7" width="80.6"/><use href="#H2" x="317.3"/><rect class="m22" x="259" width="5"/>
<rect class="x" x="361" width="30.7"/><rect class="x" x="394.3" width="48.4"/><rect class="m22" x="383" width="5"/><use href="#H2" x="442.7"/>
<rect class="x" x="496.7" width="26.6"/><rect class="x" x="528.3" width="49.4"/><use href="#H2" x="577.7"/>
</g>
<g id="n-HAMII-2" transform="translate(0,414.92)"><text class="t" x="39" y="2">HAMII-2</text>
<rect class="x" x="109.3" width="74.4"/><use href="#H" x="183.7"/>
<rect class="x" x="242.7" width="76"/><use href="#H" x="318.7"/>
<rect class="x" x="367.7" width="75"/><use href="#H" x="442.7"/>
<rect class="x" x="502.7" width="75.6"/><use href="#H" x="578.3"/>
</g>
<g id="n-HAMII-3" transform="translate(0,421.76)"><text class="t" x="39" y="2">HAMII-3</text>
<rect class="x" x="109.3" width="75"/><use href="#H2" x="184.3"/><rect class="m26" x="119.3" width="2.4"/>
<rect class="x" x="243.3" width="75.4"/><use href="#H2" x="318.7"/><rect class="m26" x="253" width="2.4"/>
<rect class="x" x="367.3" width="75.4"/><use href="#H2" x="442.7"/><rect class="m26" x="378" width="2.4"/>
</g>
<g id="n-HAMII-3-td" transform="translate(0,428.6)"><text class="t" x="39" y="2">HAMII-3-td</text>
<rect class="x" x="367.3" width="75.4"/><use href="#H2" x="442.7"/><rect class="m26" x="378" width="2.4"/>
</g>
</g>
<g id="legend">
<line x1="635" y1="18" x2="653" y2="18" stroke="#333" stroke-width="1.3"/><text class="lg" x="659" y="20.5">Intron</text>
<rect x="635.5" y="24.7" width="17" height="4.2" rx="1.5" fill="#fff" stroke="#333" stroke-width=".9"/><text class="lg" x="659" y="29.2">Exon</text>
<g>
<rect class="s m1" x="635" y="33.4" width="18" height="4.2" rx="1.5"/><text class="lg" x="659" y="38">Motif 1</text>
<rect class="s m2" x="635" y="42.15" width="18" height="4.2" rx="1.5"/><text class="lg" x="659" y="46.75">Motif 2</text>
<rect class="s m3" x="635" y="50.9" width="18" height="4.2" rx="1.5"/><text class="lg" x="659" y="55.5">Motif 3</text>
<rect class="s m4" x="635" y="59.65" width="18" height="4.2" rx="1.5"/><text class="lg" x="659" y="64.25">Motif 4</text>
<rect class="s m5" x="635" y="68.4" width="18" height="4.2" rx="1.5"/><text class="lg" x="659" y="73">Motif 5</text>
<rect class="s m6" x="635" y="77.15" width="18" height="4.2" rx="1.5"/><text class="lg" x="659" y="81.75">Motif 6</text>
<rect class="s m7" x="635" y="85.9" width="18" height="4.2" rx="1.5"/><text class="lg" x="659" y="90.5">Motif 7</text>
<rect class="s m8" x="635" y="94.65" width="18" height="4.2" rx="1.5"/><text class="lg" x="659" y="99.25">Motif 8</text>
<rect class="s m9" x="635" y="103.4" width="18" height="4.2" rx="1.5"/><text class="lg" x="659" y="108">Motif 9</text>
<rect class="s m10" x="635" y="112.15" width="18" height="4.2" rx="1.5"/><text class="lg" x="659" y="116.75">Motif 10</text>
<rect class="s m11" x="635" y="120.9" width="18" height="4.2" rx="1.5"/><text class="lg" x="659" y="125.5">Motif 11</text>
<rect class="s m12" x="635" y="129.65" width="18" height="4.2" rx="1.5"/><text class="lg" x="659" y="134.25">Motif 12</text>
<rect class="s m13" x="635" y="138.4" width="18" height="4.2" rx="1.5"/><text class="lg" x="659" y="143">Motif 13</text>
<rect class="s m14" x="635" y="147.15" width="18" height="4.2" rx="1.5"/><text class="lg" x="659" y="151.75">Motif 14</text>
<rect class="s m15" x="635" y="155.9" width="18" height="4.2" rx="1.5"/><text class="lg" x="659" y="160.5">Motif 15</text>
<rect class="s m16" x="635" y="164.65" width="18" height="4.2" rx="1.5"/><text class="lg" x="659" y="169.25">Motif 16</text>
<rect class="s m17" x="635" y="173.4" width="18" height="4.2" rx="1.5"/><text class="lg" x="659" y="178">Motif 17</text>
<rect class="s m18" x="635" y="182.15" width="18" height="4.2" rx="1.5"/><text class="lg" x="659" y="186.75">Motif 18</text>
<rect class="s m19" x="635" y="190.9" width="18" height="4.2" rx="1.5"/><text class="lg" x="659" y="195.5">Motif 19</text>
<rect class="s m20" x="635" y="199.65" width="18" height="4.2" rx="1.5"/><text class="lg" x="659" y="204.25">Motif 20</text>
<rect class="s m21" x="635" y="208.4" width="18" height="4.2" rx="1.5"/><text class="lg" x="659" y="213">Motif 21</text>
<rect class="s m22" x="635" y="217.15" width="18" height="4.2" rx="1.5"/><text class="lg" x="659" y="221.75">Motif 22</text>
<rect class="s m23" x="635" y="225.9" width="18" height="4.2" rx="1.5"/><text class="lg" x="659" y="230.5">Motif 23</text>
<rect class="s m24" x="635" y="234.65" width="18" height="4.2" rx="1.5"/><text class="lg" x="659" y="239.25">Motif 24</text>
<rect class="s m25" x="635" y="243.4" width="18" height="4.2" rx="1.5"/><text class="lg" x="659" y="248">Motif 25</text>
<rect class="s m26" x="635" y="252.15" width="18" height="4.2" rx="1.5"/><text class="lg" x="659" y="256.75">Motif 26</text>
<rect class="s m27" x="635" y="260.9" width="18" height="4.2" rx="1.5"/><text class="lg" x="659" y="265.5">Motif 27</text>
</g>
<path d="M640 424.8V427H653" fill="none" stroke="#333" stroke-width=".7"/>
<text x="655" y="428.8" font-family="Liberation Sans, Arial, sans-serif" font-size="5" fill="#333">200 bp</text>
</g>
</svg>
